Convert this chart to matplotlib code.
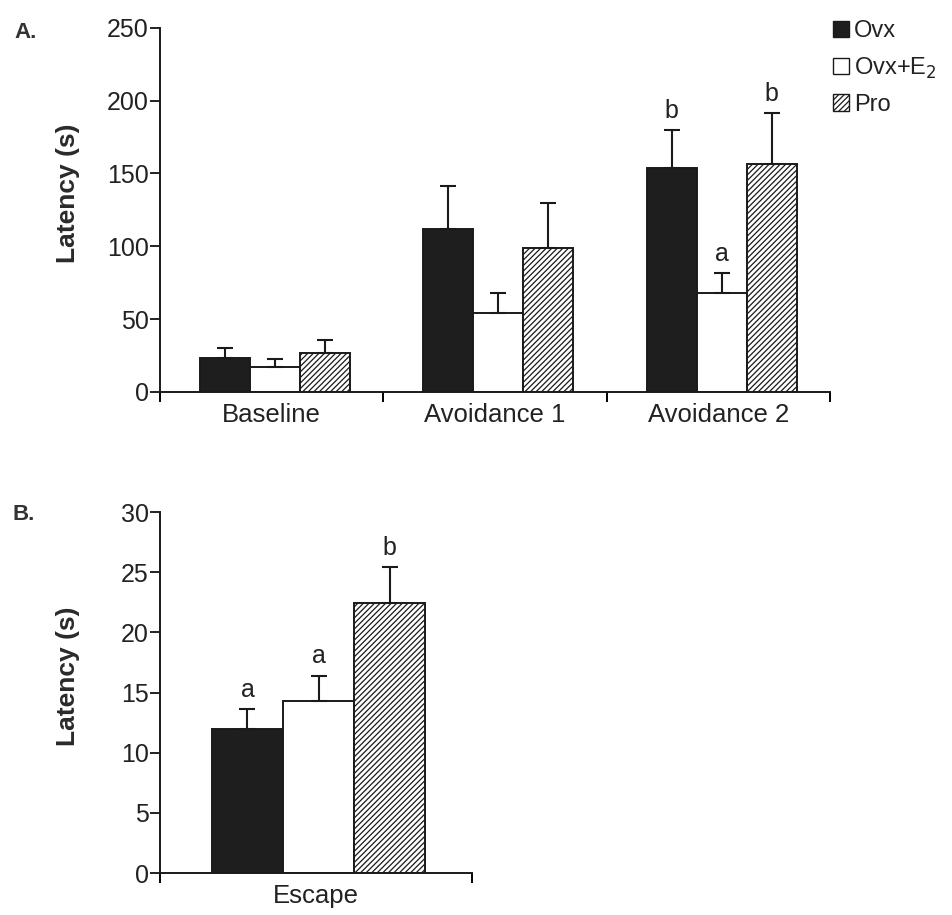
import matplotlib.pyplot as plt
import numpy as np
from matplotlib.patches import Patch

plt.rcParams['font.family'] = ['Liberation Sans', 'DejaVu Sans']
plt.rcParams['hatch.linewidth'] = 0.9

# Panel A data
phases = ["Baseline", "Avoidance 1", "Avoidance 2"]
groups = ["Ovx", "Ovx+E$_2$", "Pro"]
ovx_mean = [23.5, 112, 154]
ovx_sem = [6.5, 29.5, 26]
e2_mean = [17, 54, 68]
e2_sem = [5.5, 14, 13.5]
pro_mean = [27, 99, 156.5]
pro_sem = [9, 31, 35]
# letters above the Avoidance 2 bars
a_letters = {2: ["b", "a", "b"]}

# Panel B data
escape_mean = [12, 14.3, 22.4]
escape_sem = [1.6, 2.1, 3.0]
escape_letters = ["a", "a", "b"]

fills = ["#1e1e1e", "white", "white"]
hatches = [None, None, "//////"]
ink = "#222222"

fig = plt.figure(figsize=(9.52, 9.15), dpi=100)


def style_axes(ax, n, ymax, ystep, labx):
    for s in ["top", "right"]:
        ax.spines[s].set_visible(False)
    for s in ["left", "bottom"]:
        ax.spines[s].set_linewidth(1.4)
        ax.spines[s].set_color("#1a1a1a")
    ax.set_xlim(-0.5, n - 0.5)
    ax.set_ylim(0, ymax)
    ax.set_yticks(np.arange(0, ymax + 1, ystep))
    ax.tick_params(axis="y", direction="out", length=7, width=1.4, pad=1,
                   labelsize=18, colors=ink)
    ax.set_xticks(np.arange(n + 1) - 0.5)
    ax.set_xticklabels([])
    ax.tick_params(axis="x", which="major", direction="out", length=7, width=1.4)
    ax.set_xticks(np.arange(n), minor=True)
    ax.tick_params(axis="x", which="minor", length=0, pad=8, labelsize=18.5,
                   colors=ink)
    ax.set_ylabel("Latency (s)", fontsize=19, fontweight="bold", color="#2a2a2a")
    ax.yaxis.set_label_coords(labx, 0.545)


# Panel A
axA = fig.add_axes([0.168, 0.5716, 0.704, 0.398])
style_axes(axA, 3, 250, 50, -0.119)
axA.set_xticklabels(phases, minor=True)
wA = 0.224
xA = np.arange(3) + 0.015
A_means = [ovx_mean, e2_mean, pro_mean]
A_sems = [ovx_sem, e2_sem, pro_sem]
for i in range(3):
    xi = xA + (i - 1) * wA
    axA.bar(xi, A_means[i], wA, color=fills[i], edgecolor="#1a1a1a",
            linewidth=1.4, hatch=hatches[i], zorder=2)
    axA.errorbar(xi, A_means[i], yerr=[np.zeros(3), A_sems[i]], fmt="none",
                 ecolor="#1a1a1a", elinewidth=1.5, capsize=6, capthick=1.5,
                 zorder=3)
for k, lts in a_letters.items():
    for i, lt in enumerate(lts):
        top = A_means[i][k] + A_sems[i][k]
        axA.text(xA[k] + (i - 1) * wA, top + 5, lt, ha="center", va="bottom",
                 fontsize=18, color=ink)

handles = [Patch(facecolor=fills[i], edgecolor="#1a1a1a", hatch=hatches[i],
                 linewidth=1.0) for i in range(3)]
fig.legend(handles, groups, loc="upper left", bbox_to_anchor=(0.865, 0.988),
           frameon=False, fontsize=17, handlelength=0.7, handleheight=0.7,
           handletextpad=0.2, labelspacing=0.55, borderaxespad=0,
           labelcolor=ink)

# Panel B
axB = fig.add_axes([0.168, 0.0459, 0.328, 0.3945])
style_axes(axB, 1, 30, 5, -0.256)
axB.set_xticklabels(["Escape"], minor=True)
wB = 0.2276
for i in range(3):
    xi = 0.008 + (i - 1) * wB
    axB.bar(xi, escape_mean[i], wB, color=fills[i], edgecolor="#1a1a1a",
            linewidth=1.4, hatch=hatches[i], zorder=2)
    axB.errorbar(xi, escape_mean[i], yerr=[[0], [escape_sem[i]]], fmt="none",
                 ecolor="#1a1a1a", elinewidth=1.5, capsize=6, capthick=1.5,
                 zorder=3)
    axB.text(xi, escape_mean[i] + escape_sem[i] + 0.6, escape_letters[i],
             ha="center", va="bottom", fontsize=18, color=ink)

fig.text(0.015, 0.959, "A.", fontsize=16, fontweight="bold", color="#333333")
fig.text(0.013, 0.432, "B.", fontsize=16, fontweight="bold", color="#333333")

fig.savefig("out.png", dpi=100, facecolor="white")
